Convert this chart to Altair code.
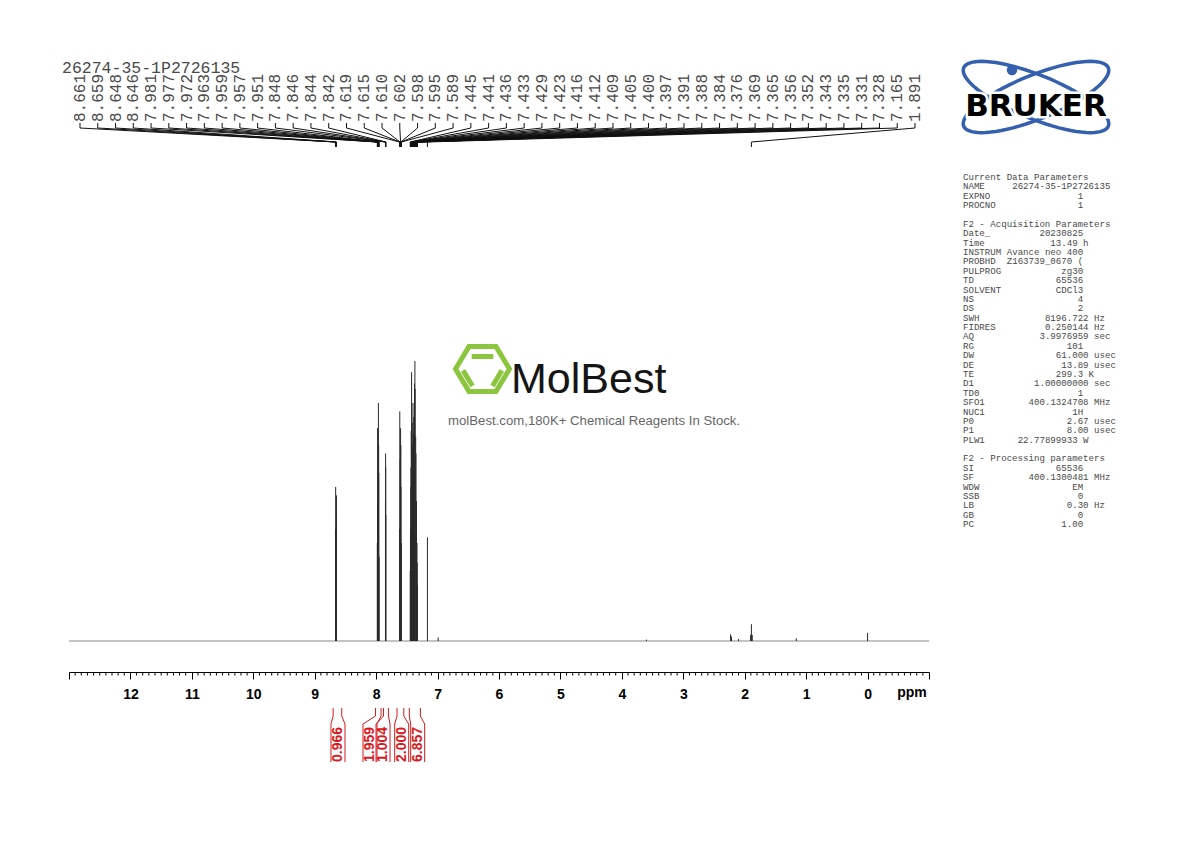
import altair as alt
import numpy as np
import pandas as pd

# ---------------- data ----------------
peak_ppm = [8.661, 8.659, 8.648, 8.646,
            7.981, 7.977, 7.972, 7.963, 7.959, 7.957, 7.951,
            7.848, 7.846, 7.844, 7.842,
            7.619, 7.615, 7.610, 7.602, 7.598, 7.595, 7.589,
            7.445, 7.441, 7.436, 7.433, 7.429, 7.423, 7.416, 7.412, 7.409, 7.405,
            7.400, 7.397, 7.391, 7.388, 7.384, 7.376, 7.369, 7.365, 7.356, 7.352,
            7.343, 7.335, 7.331, 7.328,
            7.165, 1.891]
peak_int = [40, 55, 45, 52,
            35, 76, 50, 85, 70, 60, 30,
            50, 67, 62, 45,
            40, 82, 65, 76, 70, 55, 35,
            25, 40, 55, 62, 75, 96, 85, 78, 70, 63,
            60, 66, 74, 80, 85, 92, 100, 90, 73, 67,
            50, 35, 28, 20,
            37, 6]
minor_ppm = [6.99, 3.60, 2.230, 2.215, 2.100, 1.905, 1.877, 1.160, 0.000]
minor_int = [1.3, 0.5, 2.4, 1.6, 0.7, 2.2, 2.2, 1.0, 2.9]

integral_vals = ["0.966", "1.959", "1.004", "2.000", "6.857"]
integral_from = [8.70, 8.01, 7.88, 7.66, 7.46]
integral_to = [8.56, 7.92, 7.80, 7.55, 7.28]
integral_label_ppm = [8.621, 8.100, 7.888, 7.584, 7.324]

axis_major = list(range(13, -2, -1))
title_text = "26274-35-1P2726135"

header_rows = [0, 5, 30]
header_text = ["Current Data Parameters", "F2 - Acquisition Parameters",
               "F2 - Processing parameters"]
param_rows = [1, 2, 3, 6, 7, 8, 9, 10, 11, 12, 13, 14, 15, 16, 17, 18, 19, 20,
              21, 22, 23, 24, 25, 26, 27, 28, 31, 32, 33, 34, 35, 36, 37]
param_names = ["NAME", "EXPNO", "PROCNO", "Date_", "Time", "INSTRUM", "PROBHD",
               "PULPROG", "TD", "SOLVENT", "NS", "DS", "SWH", "FIDRES", "AQ", "RG",
               "DW", "DE", "TE", "D1", "TD0", "SFO1", "NUC1", "P0", "P1", "PLW1",
               "SI", "SF", "WDW", "SSB", "LB", "GB", "PC"]
param_values = ["26274-35-1P2726135", "1", "1", "20230825", "13.49",
                "Avance neo 400", "Z163739_0670 (", "zg30", "65536", "CDCl3", "4",
                "2", "8196.722", "0.250144", "3.9976959", "101", "61.000", "13.89",
                "299.3", "1.00000000", "1", "400.1324708", "1H", "2.67", "8.00",
                "22.77899933", "65536", "400.1300481", "EM", "0", "0.30", "0", "1.00"]
param_units = ["", "", "", "", "h", "", "", "", "", "", "", "", "Hz", "Hz", "sec",
               "", "usec", "usec", "K", "sec", "", "MHz", "", "usec", "usec", "W",
               "", "MHz", "", "", "Hz", "", ""]
param_endcol = [27, 22, 22, 22, 21, 22, 22, 22, 22, 22, 22, 22, 23, 23, 23, 22,
                23, 23, 22, 23, 22, 23, 22, 23, 23, 21, 22, 23, 22, 22, 23, 22, 22]

# ---------------- layout ----------------
W, H = 860, 617            # plot area: page x 69..929, page y 55..672
XS = alt.Scale(domain=[13, -1], nice=False, zero=False)
YS = alt.Scale(domain=[-11.07, 209.29], nice=False, zero=False)
PX = alt.Scale(domain=[69, 929], range=[0, W], nice=False, zero=False)
PY = alt.Scale(domain=[55, 672], range=[0, H], nice=False, zero=False)
MONO = "Liberation Mono"
SANS = "Liberation Sans"
RED = "#d7191c"

def xq(f, s=XS):
    return alt.X(f, type="quantitative", scale=s, axis=None)

def yq(f, s=PY):
    return alt.Y(f, type="quantitative", scale=s, axis=None)

# spectrum
spec_df = pd.DataFrame({"ppm": peak_ppm + minor_ppm,
                        "inten": peak_int + minor_int})
spec_df["base"] = 0.0
x_axis = alt.Axis(values=axis_major, tickSize=7, grid=False, title=None,
                  labelExpr="(datum.value >= 13 || datum.value <= -1) ? '' : datum.label",
                  labelFont=SANS, labelFontWeight="bold", labelFontSize=14,
                  labelColor="black", tickColor="black", domainColor="black",
                  labelPadding=8, labelFlush=False, labelOverlap=False)
spectrum = alt.Chart(spec_df).mark_rule(color="#2a2a2a", strokeWidth=1).encode(
    x=alt.X("ppm:Q", scale=XS, axis=x_axis),
    y=alt.Y("base:Q", scale=YS, axis=None),
    y2="inten:Q")

base_df = pd.DataFrame({"a": [13.0], "b": [-1.0], "y": [0.0]})
baseline = alt.Chart(base_df).mark_rule(color="#888888", strokeWidth=1).encode(
    x=xq("a"), x2="b", y=alt.Y("y:Q", scale=YS, axis=None))

minor_ticks = [round(v / 10.0, 1) for v in range(130, -11, -1) if v % 10 != 0]
mt = alt.Chart(pd.DataFrame({"ppm": minor_ticks})).mark_rule(
    color="black", strokeWidth=1).encode(
    x=xq("ppm"), y=alt.value(H), y2=alt.value(H + 3.5))

# peak labels and leaders
n = len(peak_ppm)
lab_ppm = np.linspace(12.821, -0.772, n)
lab_df = pd.DataFrame({"lx": lab_ppm, "txt": ["%.3f" % p for p in peak_ppm],
                       "y": [122.0] * n})
labels = alt.Chart(lab_df).mark_text(angle=270, align="left", baseline="middle",
                                     font=MONO, fontSize=16, color="#4a4a4a").encode(
    x=xq("lx"), y=yq("y"), text="txt:N")

seg = []
for lx, p in zip(lab_ppm, peak_ppm):
    seg.append((lx, lx, 123, 128))
    seg.append((lx, p, 128, 142))
    seg.append((p, p, 142, 147))
seg_df = pd.DataFrame(seg, columns=["x", "x2", "y", "y2"])
leaders = alt.Chart(seg_df).mark_rule(color="#111111", strokeWidth=1).encode(
    x=xq("x"), x2="x2", y=yq("y"), y2="y2")

# integrals
hw = 7 * 14 / 860.0
iseg = []
for f, t, c in zip(integral_from, integral_to, integral_label_ppm):
    bl, br = c + hw, c - hw
    iseg += [(f, f, 708, 716), (f, bl, 716, 724), (bl, bl, 724, 762),
             (t, t, 708, 716), (t, br, 716, 724), (br, br, 724, 762)]
iseg_df = pd.DataFrame(iseg, columns=["x", "x2", "y", "y2"])
integ = alt.Chart(iseg_df).mark_rule(color=RED, strokeWidth=1).encode(
    x=xq("x"), x2="x2", y=yq("y"), y2="y2")
ilab_df = pd.DataFrame({"x": integral_label_ppm, "t": integral_vals,
                        "y": [744.5] * len(integral_vals)})
ilabels = alt.Chart(ilab_df).mark_text(angle=270, align="center", baseline="middle",
                                       font=SANS, fontSize=14, fontWeight="bold",
                                       color=RED).encode(
    x=xq("x"), y=yq("y"), text="t:N")

# page-positioned texts
def ptext(x, y, t, **kw):
    df = pd.DataFrame({"x": [x], "y": [y], "t": [t]})
    return alt.Chart(df).mark_text(**kw).encode(
        x=xq("x", PX), y=yq("y"), text="t:N")

title = ptext(62, 68, title_text, align="left", baseline="middle", font=MONO,
              fontSize=16.5, color="#4a4a4a")
ppm_lab = ptext(912, 697, "ppm", align="center", baseline="alphabetic", font=SANS,
                fontSize=14, fontWeight="bold", color="black")

# parameter panel
CW = 0.6 * 9.1
ROW0, ROWH = 177.0, 9.38
hdr_df = pd.DataFrame({"x": [963.0] * 3, "y": [ROW0 + r * ROWH for r in header_rows],
                       "t": header_text})
pn_df = pd.DataFrame({
    "x": [963.0] * len(param_names),
    "xv": [963.0 + c * CW for c in param_endcol],
    "xu": [963.0 + (c + 1) * CW for c in param_endcol],
    "y": [ROW0 + r * ROWH for r in param_rows],
    "n": param_names, "v": param_values, "u": param_units})
ptxt = dict(baseline="middle", font=MONO, fontSize=9.1, color="#4a4a4a")
hdr = alt.Chart(hdr_df).mark_text(align="left", **ptxt).encode(
    x=xq("x", PX), y=yq("y"), text="t:N")
pnames = alt.Chart(pn_df).mark_text(align="left", **ptxt).encode(
    x=xq("x", PX), y=yq("y"), text="n:N")
pvals = alt.Chart(pn_df).mark_text(align="right", **ptxt).encode(
    x=xq("xv", PX), y=yq("y"), text="v:N")
punits = alt.Chart(pn_df).mark_text(align="left", **ptxt).encode(
    x=xq("xu", PX), y=yq("y"), text="u:N")

# MolBest watermark
hex_path = ("M-1,0 L-0.5,-0.83 L0.5,-0.83 L1,0 L0.5,0.83 L-0.5,0.83 Z "
            "M-0.4,-0.46 L0.4,-0.46 M-0.72,0.05 L-0.37,0.63 M0.72,0.05 L0.37,0.63")
hexdf = pd.DataFrame({"x": [482.5], "y": [369.0]})
hexagon = alt.Chart(hexdf).mark_point(shape=hex_path, filled=False, size=2916,
                                      strokeWidth=5, color="#8cc63f", opacity=1).encode(
    x=xq("x", PX), y=yq("y"))
molbest = ptext(511, 393, "MolBest", align="left", baseline="alphabetic",
                font=SANS, fontSize=43, color="#151515")
molsub = ptext(448, 421, "molBest.com,180K+ Chemical Reagents In Stock.", align="left",
               baseline="middle", font=SANS, fontSize=13.2, color="#666666")

# Bruker logo
def ellipse_path(a, b, deg, unit):
    th = np.deg2rad(deg)
    pts = []
    for k in range(73):
        t = 2 * np.pi * k / 72
        x = (a * np.cos(t) * np.cos(th) - b * np.sin(t) * np.sin(th)) / unit
        y = (a * np.cos(t) * np.sin(th) + b * np.sin(t) * np.cos(th)) / unit
        pts.append("%.4f,%.4f" % (x, y))
    return "M" + " L".join(pts) + " Z"

logo_df = pd.DataFrame({"x": [1036.0], "y": [97.0]})
orbits = []
for d in (22, -22):
    orbits.append(alt.Chart(logo_df).mark_point(
        shape=ellipse_path(78, 22, d, 80), filled=False, size=25600, strokeWidth=3.5,
        color="#3560ad", opacity=1).encode(x=xq("x", PX), y=yq("y")))
dot = alt.Chart(pd.DataFrame({"x": [1012.0], "y": [70.0]})).mark_point(
    shape="circle", filled=True, size=110, color="#3560ad", opacity=1).encode(
    x=xq("x", PX), y=yq("y"))
bruker_halo = ptext(1036, 116, "BRUKER", align="center", baseline="alphabetic",
                    font="DejaVu Sans", fontSize=31, fontWeight="bold", color="white",
                    stroke="white", strokeWidth=5)
bruker = ptext(1036, 116, "BRUKER", align="center", baseline="alphabetic",
               font="DejaVu Sans", fontSize=31, fontWeight="bold", color="black")

chart = alt.layer(
    baseline, spectrum, mt, leaders, labels, title, integ, ilabels, ppm_lab,
    hdr, pnames, pvals, punits, hexagon, molbest, molsub,
    orbits[0], orbits[1], dot, bruker_halo, bruker
).resolve_scale(x="independent", y="independent").properties(
    width=W, height=H,
    padding={"left": 61, "top": 47, "right": 242, "bottom": 110},
    autosize=alt.AutoSizeParams(type="none"),
    background="white"
).configure_view(stroke=None)

chart.save("out.html", embed_options={"renderer": "svg", "actions": False})
